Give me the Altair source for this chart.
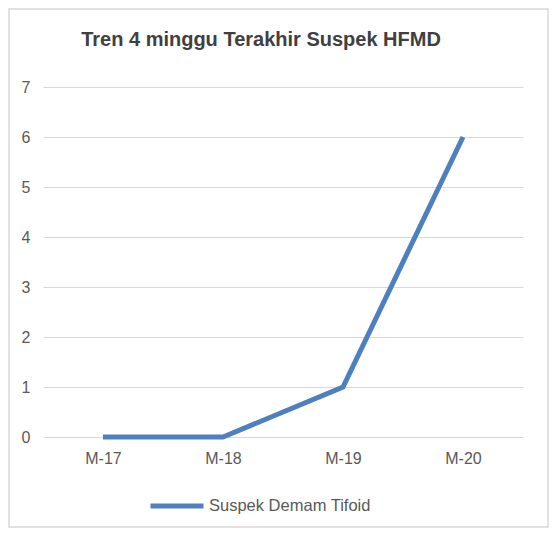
import altair as alt
import pandas as pd

weeks = ["M-17", "M-18", "M-19", "M-20"]
values = [0, 0, 1, 6]
series = "Suspek Demam Tifoid"
title = "Tren 4 minggu Terakhir Suspek HFMD"

df = pd.DataFrame({"week": weeks, "value": values, "series": [series] * len(weeks)})

FONT = "Liberation Sans"

line = alt.Chart(df).mark_line(strokeWidth=5, strokeJoin="miter").encode(
    x=alt.X("week:O", sort=weeks, title=None,
            scale=alt.Scale(type="point", padding=0.5),
            axis=alt.Axis(labelAngle=0, ticks=False, domain=False, grid=False,
                          labelFontSize=16, labelColor="#595959", labelPadding=13, labelFont=FONT)),
    y=alt.Y("value:Q", title=None,
            scale=alt.Scale(domain=[0, 7]),
            axis=alt.Axis(values=list(range(8)), ticks=False, domain=False,
                          gridColor="#d9d9d9", gridWidth=1.2,
                          labelFontSize=16, labelColor="#595959", labelPadding=13, labelFont=FONT)),
    color=alt.Color("series:N", title=None,
                    scale=alt.Scale(range=["#4e7fbf"]),
                    legend=alt.Legend(orient="none", legendX=105, legendY=390, padding=0,
                                      symbolType="stroke", symbolSize=2809, symbolStrokeWidth=5,
                                      labelFontSize=16.5, labelColor="#595959", labelFont=FONT,
                                      labelOffset=3, labelLimit=400)),
)

border = alt.Chart(alt.Data(values=[{}])).mark_rect(
    fill=None, stroke="#d9d9d9", strokeWidth=1.5
).encode(
    x=alt.value(-34), x2=alt.value(505), y=alt.value(-78), y2=alt.value(440)
)

title_mark = alt.Chart(alt.Data(values=[{"t": title}])).mark_text(
    font=FONT, fontSize=20, fontWeight="bold", color="#404040",
    align="center", baseline="middle"
).encode(text="t:N", x=alt.value(218), y=alt.value(-47))

chart = alt.layer(border, line, title_mark).properties(
    width=480, height=350,
    padding={"left": 35, "top": 79, "right": 26, "bottom": 91},
    autosize=alt.AutoSizeParams(type="none"),
).configure_view(stroke=None)

chart.save("out.html", embed_options={"renderer": "svg", "actions": False})
